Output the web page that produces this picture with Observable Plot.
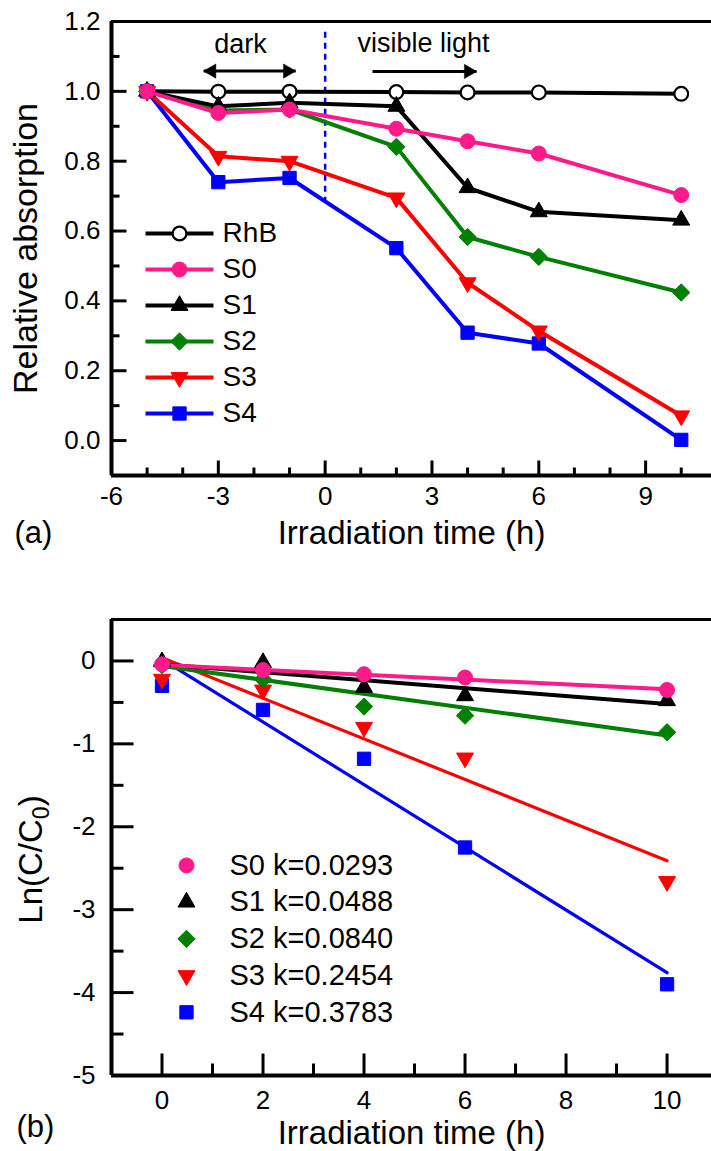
<!DOCTYPE html>
<html><head><meta charset="utf-8">
<script src="https://cdn.jsdelivr.net/npm/d3@7"></script>
<script src="https://cdn.jsdelivr.net/npm/@observablehq/plot@0.6"></script>
<style>
html,body{margin:0;padding:0;background:#fff;}
body{width:711px;height:1151px;position:relative;overflow:hidden;font-family:"Liberation Sans",Arial,Helvetica,sans-serif;}
#a{position:absolute;left:0;top:0;}
#b{position:absolute;left:0;top:560px;}
svg{display:block;}
</style></head><body><div id="a"></div><div id="b"></div>
<script>
// ---------- Panel (a) data ----------
const timeA = [-5, -3, -1, 2, 4, 6, 10];
const RhB = [1.0, 0.999, 0.999, 0.998, 0.997, 0.997, 0.993];
const S0a = [1.0, 0.938, 0.948, 0.893, 0.857, 0.822, 0.703];
const S1a = [1.0, 0.957, 0.967, 0.957, 0.724, 0.655, 0.631];
const S2a = [1.0, 0.945, 0.948, 0.841, 0.583, 0.526, 0.424];
const S3a = [1.0, 0.814, 0.800, 0.695, 0.452, 0.314, 0.071];
const S4a = [1.0, 0.740, 0.752, 0.551, 0.309, 0.278, 0.002];
const namesA = ["RhB", "S0", "S1", "S2", "S3", "S4"];
const xTicksA = [-6, -3, 0, 3, 6, 9];
const xMinorA = [-5, -4, -2, -1, 1, 2, 4, 5, 7, 8, 10];
const yTicksA = [0, 0.2, 0.4, 0.6, 0.8, 1.0, 1.2];
const yMinorA = [0.1, 0.3, 0.5, 0.7, 0.9, 1.1];

// ---------- Panel (b) data ----------
const timeB = [0, 2, 4, 6, 10];
const S0b = [-0.04, -0.11, -0.16, -0.20, -0.35];
const S1b = [-0.01, -0.02, -0.32, -0.42, -0.48];
const S2b = [-0.05, -0.22, -0.55, -0.66, -0.86];
const S3b = [-0.22, -0.35, -0.80, -1.17, -2.66];
const S4b = [-0.30, -0.59, -1.18, -2.25, -3.90];
const namesB = ["S0", "S1", "S2", "S3", "S4"];
const kValues = ["0.0293", "0.0488", "0.0840", "0.2454", "0.3783"];
const fitX = [0, 10];
const fitStart = [-0.05, -0.04, -0.06, 0.04, 0.02];
const fitEnd = [-0.34, -0.52, -0.90, -2.41, -3.76];
const xTicksB = [0, 2, 4, 6, 8, 10];
const xMinorB = [1, 3, 5, 7, 9];
const yTicksB = [-5, -4, -3, -2, -1, 0];
const yMinorB = [-4.5, -3.5, -2.5, -1.5, -0.5];

// annotations (panel a)
const darkArrow = [-3.41, -0.83, 1.058];
const lightArrow = [1.33, 4.25, 1.057];
const darkLabel = [-2.38, 1.134];
const lightLabel = [2.76, 1.137];
const dashLine = [0, 1.169, 0.687];

// ---------- styles ----------
const FONT = '"Liberation Sans", Arial, Helvetica, sans-serif';
const PINK = "#ff1a8c", GREEN = "#008000", RED = "#ff0000", BLUE = "#0000ff", BLACK = "#000000";
const sty = {
  RhB: {color: BLACK, fill: "#ffffff", symbol: "circle", r: 6.9, sw: 2.2, rotate: 0, fitW: 4},
  S0: {color: PINK, fill: PINK, symbol: "circle", r: 7.5, sw: 1, rotate: 0, fitW: 4},
  S1: {color: BLACK, fill: BLACK, symbol: "triangle", r: 6.3, sw: 1, rotate: 0, fitW: 4},
  S2: {color: GREEN, fill: GREEN, symbol: "diamond2", r: 7.8, sw: 1, rotate: 0, fitW: 4},
  S3: {color: RED, fill: RED, symbol: "triangle", r: 6.3, sw: 1, rotate: 180, fitW: 3.2},
  S4: {color: BLUE, fill: BLUE, symbol: "square", r: 7.5, sw: 1, rotate: 0, fitW: 3.2}
};

const valuesA = {RhB, S0: S0a, S1: S1a, S2: S2a, S3: S3a, S4: S4a};
const valuesB = {S0: S0b, S1: S1b, S2: S2b, S3: S3b, S4: S4b};

function dotOpts(s) {
  return {x: "x", y: "y", symbol: s.symbol, r: s.r, fill: s.fill, stroke: s.color, strokeWidth: s.sw, rotate: s.rotate};
}

// inward tick symbols (custom d3 symbol objects)
const tickSym = (ex, ey) => ({draw(ctx) { ctx.moveTo(0, 0); ctx.lineTo(ex, ey); }});

function axisMarks(dom, xMajor, xMinor, yMajor, yMinor, xFmt, yFmt, tl, tlMinor, padX, padY) {
  const [x0, y0] = dom;
  const tk = {stroke: BLACK, strokeWidth: 3, fill: "none", r: 1};
  return [
    Plot.dot(xMajor, {x: d => d, y: () => y0, symbol: tickSym(0, -tl), ...tk}),
    Plot.dot(xMinor, {x: d => d, y: () => y0, symbol: tickSym(0, -tlMinor), ...tk}),
    Plot.dot(yMajor, {x: () => x0, y: d => d, symbol: tickSym(tl, 0), ...tk}),
    Plot.dot(yMinor, {x: () => x0, y: d => d, symbol: tickSym(tlMinor, 0), ...tk}),
    Plot.axisX(xMajor, {anchor: "bottom", tickSize: 0, tickPadding: padX, tickFormat: xFmt, fontSize: 26, label: null}),
    Plot.axisY(yMajor, {anchor: "left", tickSize: 0, tickPadding: padY, tickFormat: yFmt, fontSize: 26, label: null})
  ];
}

// ---------- Panel (a) ----------
const orderA = ["RhB", "S4", "S3", "S2", "S1", "S0"];
const seriesMarksA = orderA.flatMap(n => {
  const data = timeA.map((x, i) => ({x, y: valuesA[n][i]}));
  return [
    Plot.line(data, {x: "x", y: "y", stroke: sty[n].color, strokeWidth: 4}),
    Plot.dot(data, dotOpts(sty[n]))
  ];
});

// legend (a) in data units
const legA = namesA.map((n, i) => ({n, y: 0.593 - i * 0.1031}));
const legendMarksA = [
  Plot.link(legA, {x1: -5.045, x2: -3.136, y1: "y", y2: "y", stroke: d => sty[d.n].color, strokeWidth: 4}),
  ...namesA.map((n, i) => Plot.dot([legA[i]], {x: () => -4.09, y: "y", symbol: sty[n].symbol, r: sty[n].r, fill: sty[n].fill, stroke: sty[n].color, strokeWidth: sty[n].sw, rotate: sty[n].rotate})),
  Plot.text(legA, {x: () => -2.88, y: "y", text: "n", textAnchor: "start", fontSize: 28, fill: BLACK})
];

const arrowsA = [
  Plot.link([darkArrow, lightArrow], {x1: d => d[0], x2: d => d[1], y1: d => d[2], y2: d => d[2], stroke: BLACK, strokeWidth: 3}),
  Plot.dot([darkArrow, lightArrow], {x: d => d[1], y: d => d[2], symbol: "triangle", r: 5.3, rotate: 90, dx: -8, fill: BLACK, stroke: BLACK, strokeWidth: 0.5}),
  Plot.dot([darkArrow], {x: d => d[0], y: d => d[2], symbol: "triangle", r: 5.3, rotate: -90, dx: 8, fill: BLACK, stroke: BLACK, strokeWidth: 0.5}),
  Plot.text([{t: "dark", p: darkLabel}, {t: "visible light", p: lightLabel}], {x: d => d.p[0], y: d => d.p[1], text: "t", fontSize: 27, fill: BLACK})
];

const plotA = Plot.plot({
  width: 711, height: 560,
  marginLeft: 111, marginRight: 0, marginTop: 21, marginBottom: 85,
  x: {domain: [-6, 10.85], axis: null},
  y: {domain: [-0.1, 1.2], axis: null},
  style: {fontFamily: FONT, fontSize: "26px", color: BLACK, background: "#ffffff", overflow: "visible"},
  marks: [
    Plot.ruleX([dashLine], {x: d => d[0], y1: d => d[1], y2: d => d[2], stroke: BLUE, strokeWidth: 2.5, strokeDasharray: "6,5"}),
    ...seriesMarksA,
    ...legendMarksA,
    ...arrowsA,
    ...axisMarks([-6, -0.1], xTicksA, xMinorA, yTicksA, yMinorA, d => String(d), d3.format(".1f"), 15, 8, 11, 11),
    Plot.ruleY([1.2], {stroke: BLACK, strokeWidth: 3}),
    Plot.ruleY([-0.1], {stroke: BLACK, strokeWidth: 4}),
    Plot.ruleX([-6], {stroke: BLACK, strokeWidth: 4}),
    Plot.text(["Irradiation time (h)"], {frameAnchor: "bottom", dy: 58, lineAnchor: "middle", fontSize: 33, fill: BLACK}),
    Plot.text(["(a)"], {frameAnchor: "bottom-left", dx: -97, dy: 58, lineAnchor: "middle", textAnchor: "start", fontSize: 31, fill: BLACK}),
    Plot.text(["Relative absorption"], {frameAnchor: "left", dx: -85, rotate: -90, textAnchor: "middle", lineAnchor: "middle", fontSize: 34, fill: BLACK})
  ]
});
document.getElementById("a").appendChild(plotA);

// ---------- Panel (b) ----------
const orderB = ["S4", "S3", "S2", "S1", "S0"];
const fitMarks = orderB.map(n => {
  const i = namesB.indexOf(n);
  const data = fitX.map((x, j) => ({x, y: j === 0 ? fitStart[i] : fitEnd[i]}));
  return Plot.line(data, {x: "x", y: "y", stroke: sty[n].color, strokeWidth: sty[n].fitW});
});
const pointMarksB = orderB.map(n => {
  const data = timeB.map((x, i) => ({x, y: valuesB[n][i]}));
  return Plot.dot(data, dotOpts(sty[n]));
});
const legB = namesB.map((n, i) => ({n, label: `${n} k=${kValues[i]}`, y: -2.466 - i * 0.443}));
const legendMarksB = [
  ...namesB.map((n, i) => Plot.dot([legB[i]], {x: () => 0.485, y: "y", symbol: sty[n].symbol, r: sty[n].r, fill: sty[n].fill, stroke: sty[n].color, strokeWidth: sty[n].sw, rotate: sty[n].rotate})),
  Plot.text(legB, {x: () => 1.337, y: "y", text: "label", textAnchor: "start", fontSize: 29, fill: BLACK})
];

const plotB = Plot.plot({
  width: 711, height: 591,
  marginLeft: 111, marginRight: 0, marginTop: 59, marginBottom: 76,
  x: {domain: [-1, 10.88], axis: null},
  y: {domain: [-5, 0.5], axis: null},
  style: {fontFamily: FONT, fontSize: "26px", color: BLACK, background: "#ffffff", overflow: "visible"},
  marks: [
    ...fitMarks,
    ...pointMarksB,
    ...legendMarksB,
    ...axisMarks([-1, -5], xTicksB, xMinorB, yTicksB, yMinorB, d => String(d), d => String(d), 22, 12, 15, 16),
    Plot.ruleY([0.5], {stroke: BLACK, strokeWidth: 3}),
    Plot.ruleY([-5], {stroke: BLACK, strokeWidth: 4}),
    Plot.ruleX([-1], {stroke: BLACK, strokeWidth: 4}),
    Plot.text(["Irradiation time (h)"], {frameAnchor: "bottom", dy: 58, lineAnchor: "middle", fontSize: 33, fill: BLACK}),
    Plot.text(["(b)"], {frameAnchor: "bottom-left", dx: -95, dy: 52, lineAnchor: "middle", textAnchor: "start", fontSize: 31, fill: BLACK}),
    Plot.text(["Ln(C/C0)"], {frameAnchor: "left", dx: -80, dy: 12, rotate: -90, textAnchor: "middle", lineAnchor: "middle", fontSize: 33, fill: BLACK})
  ]
});
document.getElementById("b").appendChild(plotB);

// subscript 0 in Ln(C/C0)
const NS = "http://www.w3.org/2000/svg";
plotB.querySelectorAll("text").forEach(t => {
  if (t.textContent === "Ln(C/C0)") {
    t.textContent = "Ln(C/C";
    const s = document.createElementNS(NS, "tspan");
    s.setAttribute("dy", "7"); s.setAttribute("font-size", "23"); s.textContent = "0";
    const e = document.createElementNS(NS, "tspan");
    e.setAttribute("dy", "-7"); e.textContent = ")";
    t.appendChild(s); t.appendChild(e);
  }
});
</script>
</body></html>
